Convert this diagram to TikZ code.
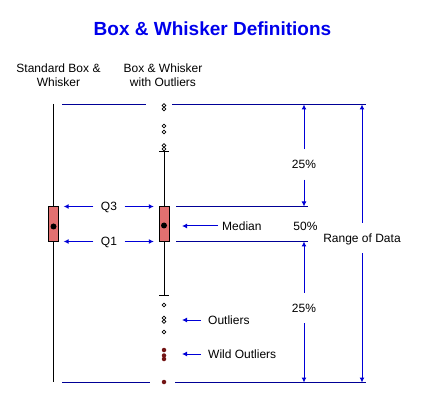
\documentclass[tikz,border=0pt]{standalone}
\usepackage{fontspec}
\setmainfont{Liberation Sans}
\usetikzlibrary{arrows.meta}

\definecolor{navyline}{RGB}{0,0,150}
\definecolor{arrowblue}{RGB}{0,0,215}
\definecolor{titleblue}{RGB}{0,0,235}
\definecolor{boxred}{RGB}{226,112,112}
\definecolor{wildred}{RGB}{115,20,20}

\tikzstyle{txt}=[font=\fontsize{12}{14}\selectfont,inner sep=0pt,text height=8.6pt,text depth=0.5pt]
\tikzstyle{head}=[font=\fontsize{12}{14}\selectfont,inner sep=0pt,align=center]
\tikzstyle{rule}=[draw,navyline,line width=1pt]
\tikzstyle{whisker}=[draw,black,line width=1pt]
\tikzstyle{pointer}=[draw,arrowblue,line width=1pt,-{Latex[length=5pt,width=5pt]},shorten <=7.5pt,shorten >=5pt]
\tikzstyle{span}=[draw,arrowblue,line width=1pt,-{Latex[length=5pt,width=5pt]},shorten <=10.5pt]
\tikzstyle{iqr box}=[rectangle,draw=black,fill=boxred,minimum width=10pt,minimum height=35pt,inner sep=0pt]
\tikzstyle{median dot}=[circle,fill=black,minimum size=6pt,inner sep=0pt]
\tikzstyle{outlier}=[circle,draw=black,fill=white,line width=0.6pt,minimum size=3.8pt,inner sep=0pt]
\tikzstyle{wild}=[circle,fill=wildred,minimum size=4.5pt,inner sep=0pt]

\begin{document}
\begin{tikzpicture}[x=1pt,y=-1pt]
	\useasboundingbox (0,0) rectangle (425,411);
	% title and column heads
	\node[font=\bfseries\fontsize{19}{22}\selectfont,text=titleblue,inner sep=0pt,anchor=base] (title) at (212.5,36) {Box \& Whisker Definitions};
	\node[head] (stdhead) at (58.5,75) {Standard Box \&\\Whisker};
	\node[head] (outhead) at (163,75) {Box \& Whisker\\with Outliers};

	% guide lines
	\coordinate (topa) at (62,104.5);   \coordinate (topb) at (146,104.5);
	\coordinate (topc) at (172,104.5);  \coordinate (topd) at (366,104.5);
	\coordinate (bota) at (62,382.5);   \coordinate (botb) at (150,382.5);
	\coordinate (botc) at (175,382.5);  \coordinate (botd) at (366,382.5);
	\coordinate (q3a) at (176,206.5);   \coordinate (q3b) at (308,206.5);
	\coordinate (q1a) at (176,241.5);   \coordinate (q1b) at (308,241.5);
	\foreach \from/\to in {topa/topb, topc/topd, bota/botb, botc/botd, q3a/q3b, q1a/q1b}
		\path[rule] (\from) -- (\to);

	% standard box and whisker
	\coordinate (stdtop) at (53.5,104);
	\coordinate (stdbot) at (53.5,382);
	\path[whisker] (stdtop) -- (stdbot);
	\node[iqr box] (stdbox) at (53.5,224) {};
	\node[median dot] (stdmed) at (53.5,226.5) {};

	% box and whisker with outliers
	\coordinate (whitop) at (164,152);
	\coordinate (whibot) at (164,295);
	\path[whisker] (whitop) -- (whibot);
	\path[whisker] ([xshift=-5pt]whitop) -- ([xshift=5pt]whitop);
	\path[whisker] ([xshift=-5pt]whibot) -- ([xshift=5pt]whibot);
	\node[iqr box] (outbox) at (164,224) {};
	\node[median dot] (outmed) at (164,225.5) {};
	\foreach \y [count=\i] in {105.5,109,126,132,145.5,149,305,318,321.5,332}
		\node[outlier] (out\i) at (164,\y) {};
	\foreach \y [count=\i] in {350,355.5,359,382}
		\node[wild] (wild\i) at (164,\y) {};

	% labels with pointers
	\coordinate (tipcol) at (177,0);
	\node[txt] (q3) at (109,206.5) {Q3};
	\node[txt] (q1) at (109,241.5) {Q1};
	\foreach \q in {q3,q1} {
		\path[pointer] (\q) -- (stdbox.east |- \q);
		\path[pointer] (\q) -- (outbox.west |- \q);
	}
	\node[txt,anchor=west] (median) at (222,226) {Median};
	\node[txt,anchor=west] (outl) at (208,320) {Outliers};
	\node[txt,anchor=west] (wildl) at (208,354) {Wild Outliers};
	\path[pointer,shorten <=4pt] (median) -- (median -| tipcol);
	\foreach \lab in {outl,wildl}
		\path[pointer,shorten <=7pt] (\lab) -- (\lab -| tipcol);

	% spans on the right
	\node[txt] (upper) at (304,164.5) {25\%};
	\node[txt] (mid) at (305.5,226) {50\%};
	\node[txt] (lower) at (304,308) {25\%};
	\node[txt] (range) at (362,238) {Range of Data};
	\foreach \lab/\edge in {upper/topd, upper/q3b, lower/q1b, lower/botd, range/topd, range/botd}
		\path[span] (\lab) -- (\lab |- \edge);
\end{tikzpicture}
\end{document}
